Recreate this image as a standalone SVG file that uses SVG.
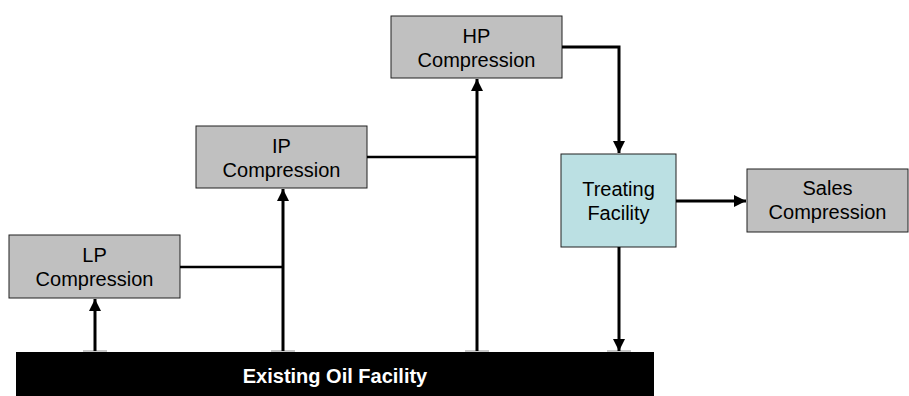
<svg xmlns="http://www.w3.org/2000/svg" width="909" height="396" viewBox="0 0 909 396">
<style>
.box{fill:#C0C0C0;stroke:#202020;stroke-width:1}
.treat{fill:#BBE0E3;stroke:#202020;stroke-width:1}
.lbl{font-family:"Liberation Sans",Arial,sans-serif;font-size:20px;fill:#000;text-anchor:middle}
.bar{font-family:"Liberation Sans",Arial,sans-serif;font-size:20px;font-weight:bold;fill:#fff;text-anchor:middle}
.ln{fill:none;stroke:#000;stroke-width:3}
.thin{fill:none;stroke:#000;stroke-width:2.5}
.tick{stroke:#C8C8C8;stroke-width:2}
</style>
<defs>
<marker id="ah" markerUnits="userSpaceOnUse" markerWidth="12" markerHeight="12" viewBox="0 0 12 12" refX="12" refY="6" orient="auto">
<path d="M0,0 L12,6 L0,12 Z" fill="#000"/>
</marker>
</defs>
<g id="existing-oil-facility">
<rect x="16" y="352" width="638" height="44" fill="#000"/>
<text class="bar" x="335" y="383">Existing Oil Facility</text>
</g>
<g id="lp-compression">
<rect class="box" x="9" y="235" width="171" height="63"/>
<text class="lbl" x="94.5" y="262">LP</text>
<text class="lbl" x="94.5" y="286">Compression</text>
</g>
<g id="ip-compression">
<rect class="box" x="196" y="126" width="171" height="62"/>
<text class="lbl" x="281.5" y="153">IP</text>
<text class="lbl" x="281.5" y="177">Compression</text>
</g>
<g id="hp-compression">
<rect class="box" x="391" y="16" width="171" height="62"/>
<text class="lbl" x="476.5" y="43">HP</text>
<text class="lbl" x="476.5" y="67">Compression</text>
</g>
<g id="treating-facility">
<rect class="treat" x="561" y="154" width="115" height="93"/>
<text class="lbl" x="618.5" y="196">Treating</text>
<text class="lbl" x="618.5" y="220">Facility</text>
</g>
<g id="sales-compression">
<rect class="box" x="747" y="169" width="161" height="63"/>
<text class="lbl" x="827.5" y="195">Sales</text>
<text class="lbl" x="827.5" y="219">Compression</text>
</g>
<g id="connectors">
<line class="tick" x1="83" y1="351" x2="107" y2="351"/>
<line class="tick" x1="271" y1="351" x2="295" y2="351"/>
<line class="tick" x1="465" y1="351" x2="489" y2="351"/>
<line class="tick" x1="607" y1="351" x2="631" y2="351"/>
<line class="ln" x1="95" y1="351" x2="95" y2="299" marker-end="url(#ah)"/>
<polyline class="thin" points="180,267 283,267"/>
<line class="ln" x1="283" y1="351" x2="283" y2="189" marker-end="url(#ah)"/>
<polyline class="thin" points="367,157 477,157"/>
<line class="ln" x1="477" y1="351" x2="477" y2="79" marker-end="url(#ah)"/>
<polyline class="ln" points="562,47 619,47 619,153" marker-end="url(#ah)"/>
<line class="ln" x1="676" y1="201" x2="746" y2="201" marker-end="url(#ah)"/>
<line class="ln" x1="619" y1="247" x2="619" y2="351" marker-end="url(#ah)"/>
</g>
</svg>
